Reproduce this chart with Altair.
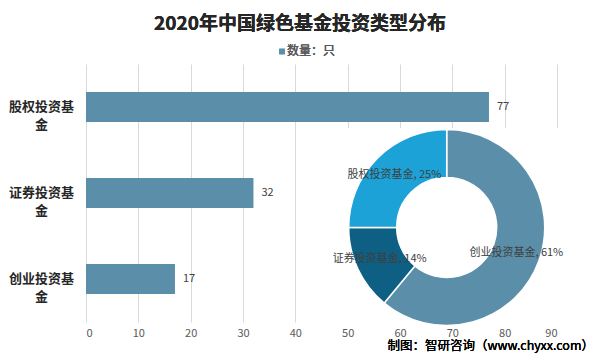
import altair as alt
import pandas as pd

FONT = "Noto Sans CJK SC"

# bar data
categories = ["股权投资基金", "证券投资基金", "创业投资基金"]
counts = [77, 32, 17]

# donut data (as labelled in the source picture)
pie_categories = ["创业投资基金", "证券投资基金", "股权投资基金"]
pie_percents = [61, 14, 25]
pie_colors = ["#5B8FA9", "#0D5F84", "#1DA2D8"]

x_ticks = [0, 10, 20, 30, 40, 50, 60, 70, 80, 90]

title_text = "2020年中国绿色基金投资类型分布"
legend_text = "数量：只"
footer_text = "制图：智研咨询（www.chyxx.com）"

bar_df = pd.DataFrame({"cat": categories, "n": counts})
pie_df = pd.DataFrame({
    "cat": pie_categories,
    "pct": pie_percents,
    "ord": list(range(len(pie_categories))),
    "label": [f"{c}, {p}%" for c, p in zip(pie_categories, pie_percents)],
})

W, H = 471, 258

xscale = alt.Scale(domain=[0, 90], nice=False, zero=True)
yscale = alt.Scale(domain=categories, paddingInner=0.65, paddingOuter=0.325)

bars = alt.Chart(bar_df).mark_bar(color="#5B8FA9").encode(
    x=alt.X("n:Q", scale=xscale, axis=alt.Axis(
        values=x_ticks, title=None, grid=True, gridColor="#D9D9D9", gridWidth=1,
        domain=False, ticks=False, tickSize=0, labelPadding=5,
        labelColor="#595959", labelFontSize=11, labelFont=FONT)),
    y=alt.Y("cat:N", scale=yscale, sort=categories, axis=alt.Axis(
        title=None, domain=False, ticks=False, tickSize=0, labelPadding=45,
        labelAlign="center", labelBaseline="middle", labelFontWeight="bold",
        labelFontSize=13, labelColor="#262626", labelFont=FONT, labelLineHeight=18,
        labelExpr="[substring(datum.value,0,5), substring(datum.value,5)]")),
)

bar_text = alt.Chart(bar_df).mark_text(
    align="left", baseline="middle", dx=8, fontSize=11, color="#404040", font=FONT
).encode(
    x=alt.X("n:Q", scale=xscale),
    y=alt.Y("cat:N", scale=yscale, sort=categories),
    text="n:Q",
)

white_box = alt.Chart(bar_df).mark_rect(color="white").encode(
    x=alt.value(234), x2=alt.value(490), y=alt.value(64), y2=alt.value(260)
)

cx, cy = 360.7, 163.5
donut = alt.Chart(pie_df).mark_arc(
    outerRadius=98, innerRadius=50, stroke="white", strokeWidth=1.5
).encode(
    theta=alt.Theta("pct:Q", stack=True),
    order=alt.Order("ord:Q"),
    color=alt.Color("cat:N", scale=alt.Scale(domain=pie_categories, range=pie_colors), legend=None),
    x=alt.value(cx), y=alt.value(cy),
)

donut_text = alt.Chart(pie_df).mark_text(
    radius=74, fontSize=11, color="#404040", font=FONT
).encode(
    theta=alt.Theta("pct:Q", stack=True),
    order=alt.Order("ord:Q"),
    text="label:N",
    x=alt.value(cx), y=alt.value(cy),
)

title = alt.Chart(bar_df).mark_text(
    fontSize=19, fontWeight="bold", color="#262626", font=FONT, align="center", baseline="middle"
).encode(x=alt.value(214), y=alt.value(-40), text=alt.value(title_text))

legend_sq = alt.Chart(bar_df).mark_square(size=30, color="#5B8FA9", opacity=1).encode(
    x=alt.value(196), y=alt.value(-12.5)
)
legend_lbl = alt.Chart(bar_df).mark_text(
    fontSize=12, color="#595959", font=FONT, align="left", baseline="middle"
).encode(x=alt.value(201), y=alt.value(-13), text=alt.value(legend_text))

footer = alt.Chart(bar_df).mark_text(
    fontSize=12.5, fontWeight="normal", color="#000000", font=FONT, align="right", baseline="bottom"
).encode(x=alt.value(508), y=alt.value(289), text=alt.value(footer_text))

chart = alt.layer(
    bars, bar_text, white_box, donut, donut_text, title, legend_sq, legend_lbl, footer
).resolve_scale(color="independent").properties(
    width=W, height=H,
    autosize=alt.AutoSizeParams(type="none"),
    padding={"left": 78, "top": 56, "right": 38, "bottom": 31},
    background="white",
).configure_view(stroke=None)

chart.save("out.html", embed_options={"renderer": "svg", "actions": False})
